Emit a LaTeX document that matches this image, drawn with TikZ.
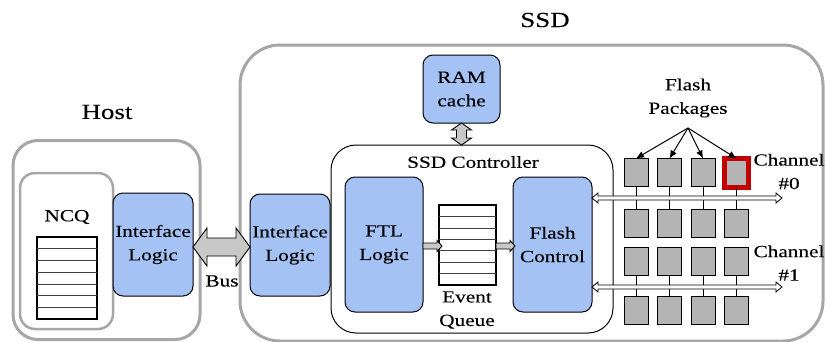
\documentclass[tikz,border=0pt]{standalone}
\usepackage{fontspec}
\setmainfont{Liberation Serif}[FakeStretch=1.25,FakeBold=0.15]
\usetikzlibrary{arrows.meta,calc}
\definecolor{boxblue}{RGB}{164,194,244}
\definecolor{pkggray}{RGB}{180,180,180}
\definecolor{framegray}{RGB}{166,166,166}
\definecolor{arrgray}{RGB}{200,200,200}
\definecolor{hired}{RGB}{192,0,0}
% horizontal double arrow: #1 left tip, #2 right tip, #3 head half-height, #4 shaft half-height, #5 head length, #6 style
\newcommand{\hdarrow}[6]{%
 \draw[#6] (#1) -- ($(#1)+(#5,-#3)$) -- ($(#1)+(#5,-#4)$) -- ($(#2)+(-#5,-#4)$) -- ($(#2)+(-#5,-#3)$) -- (#2)
 -- ($(#2)+(-#5,#3)$) -- ($(#2)+(-#5,#4)$) -- ($(#1)+(#5,#4)$) -- ($(#1)+(#5,#3)$) -- cycle;}
% vertical double arrow: #1 top tip, #2 bottom tip
\newcommand{\vdarrow}[6]{%
 \draw[#6] (#1) -- ($(#1)+(-#3,#5)$) -- ($(#1)+(-#4,#5)$) -- ($(#2)+(-#4,-#5)$) -- ($(#2)+(-#3,-#5)$) -- (#2)
 -- ($(#2)+(#3,-#5)$) -- ($(#2)+(#4,-#5)$) -- ($(#1)+(#4,#5)$) -- ($(#1)+(#3,#5)$) -- cycle;}
% single horizontal arrow: #1 tail, #2 tip
\newcommand{\hsarrow}[6]{%
 \draw[#6] ($(#1)+(0,-#4)$) -- ($(#2)+(-#5,-#4)$) -- ($(#2)+(-#5,-#3)$) -- (#2)
 -- ($(#2)+(-#5,#3)$) -- ($(#2)+(-#5,#4)$) -- ($(#1)+(0,#4)$) -- cycle;}
\begin{document}
\begin{tikzpicture}[x=1pt,y=-1pt,
  every node/.style={font=\fontsize{17}{23.5}\selectfont, inner sep=0pt, outer sep=0pt},
  titletext/.style={font=\fontsize{21.5}{24}\selectfont},
  frame/.style={draw=framegray, line width=3pt},
  bluebox/.style={draw=black, line width=1pt, fill=boxblue, rounded corners=10pt, align=center},
  queuebox/.style={draw=black, line width=1.6pt, fill=white},
  qline/.style={draw=black!75, line width=0.7pt},
  pkg/.style={draw=black, line width=0.9pt, fill=pkggray, minimum width=24pt, minimum height=28pt},
  grayarrow/.style={draw=black, line width=0.9pt, fill=arrgray, line join=miter},
  chanarrow/.style={draw=black, line width=0.8pt, fill=white},
  link/.style={draw=black, line width=0.9pt},
  pointer/.style={draw=black, line width=1pt, -{Latex[length=8pt,width=7pt]}}
]
\useasboundingbox (0,0) rectangle (825,341);

% ---------- Host ----------
\node[frame, rounded corners=25pt, minimum width=187pt, minimum height=199pt] (hostbox) at (106.5,240) {};
\node[titletext] (hostlbl) at (107,112) {Host};
\node[frame, line width=2.5pt, rounded corners=15pt, minimum width=93pt, minimum height=156pt] (ncqbox) at (66.5,251) {};
\node (ncqlbl) at (67,217) {NCQ};
\node[queuebox, minimum width=60pt, minimum height=82pt] (ncq) at (67,278) {};
\foreach \i in {1,...,6}
  \draw[qline] ($(ncq.north west)!\i/7!(ncq.south west)$) -- ($(ncq.north east)!\i/7!(ncq.south east)$);
\node[bluebox, minimum width=80pt, minimum height=103pt] (hil) at (153,244.5) {Interface\\Logic};

% ---------- SSD ----------
\node[frame, rounded corners=40pt, minimum width=583pt, minimum height=296pt] (ssdbox) at (531.5,193) {};
\node[titletext] (ssdlbl) at (545,20) {SSD};
\node[bluebox, minimum width=80pt, minimum height=102pt] (sil) at (290,245) {Interface\\Logic};

% Bus
\coordinate (busL) at (hil.east |- 0,247);
\coordinate (busR) at (sil.west |- 0,247);
\hdarrow{busL}{busR}{19}{9}{14}{grayarrow}
\node (buslbl) at (222,281) {Bus};

% RAM cache and controller
\node[bluebox, minimum width=77pt, minimum height=68pt] (ram) at (461.5,89) {RAM\\cache};
\node[draw=black, line width=1pt, fill=white, rounded corners=25pt, minimum width=282pt, minimum height=188pt] (ctrl) at (472,239) {};
\vdarrow{ram.south}{ram.south |- ctrl.north}{10}{5}{7}{grayarrow}
\node (ctrllbl) at (473,162) {SSD Controller};

\node[bluebox, minimum width=78pt, minimum height=135pt] (ftl) at (384,244.5) {FTL\\Logic};
\node[queuebox, minimum width=57pt, minimum height=80pt] (eq) at (467.5,245) {};
\foreach \i in {1,...,6}
  \draw[qline] ($(eq.north west)!\i/7!(eq.south west)$) -- ($(eq.north east)!\i/7!(eq.south east)$);
\node[align=center] (eqlbl) at (467,310) {Event\\Queue};
\node[bluebox, minimum width=79pt, minimum height=135pt] (fc) at (552.5,244.5) {Flash\\Control};

\coordinate (a1L) at (ftl.east |- 0,246);
\coordinate (a1R) at ($(eq.west |- 0,246)+(3,0)$);
\hsarrow{a1L}{a1R}{5.5}{3}{5}{grayarrow}
\coordinate (a2L) at (eq.east |- 0,246);
\coordinate (a2R) at ($(fc.west |- 0,246)+(2,0)$);
\hsarrow{a2L}{a2R}{5.5}{3}{5}{grayarrow}

% ---------- Flash packages ----------
\foreach \c/\x in {1/636,2/669.5,3/703}
  \node[pkg] (p1\c) at (\x,172.5) {};
\node[pkg, draw=hired, line width=5pt, minimum width=24pt, minimum height=29pt] (p14) at (736.5,173) {};
\foreach \c/\x in {1/636,2/669.5,3/703,4/736.5}{
  \node[pkg] (p2\c) at (\x,223.5) {};
  \node[pkg] (p3\c) at (\x,261) {};
  \node[pkg] (p4\c) at (\x,310.5) {};
  \draw[link] (p1\c.south) -- (p2\c.north);
  \draw[link] (p3\c.south) -- (p4\c.north);
}

% Channels
\coordinate (c0L) at (fc.east |- 0,198);
\coordinate (c0R) at (782,198);
\hdarrow{c0L}{c0R}{5}{2}{6}{chanarrow}
\coordinate (c1L) at (fc.east |- 0,287);
\coordinate (c1R) at (782,287);
\hdarrow{c1L}{c1R}{5}{2}{6}{chanarrow}
\node[align=center] (ch0lbl) at (789,171.5) {Channel\\\#0};
\node[align=center] (ch1lbl) at (789,263) {Channel\\\#1};

% Flash Packages label and pointers
\node[align=center] (fplbl) at (688,98) {Flash\\Packages};
\coordinate (fp) at (688,128);
\foreach \c in {1,2,3,4}
  \draw[pointer] (fp) -- (p1\c.north);
\end{tikzpicture}
\end{document}
